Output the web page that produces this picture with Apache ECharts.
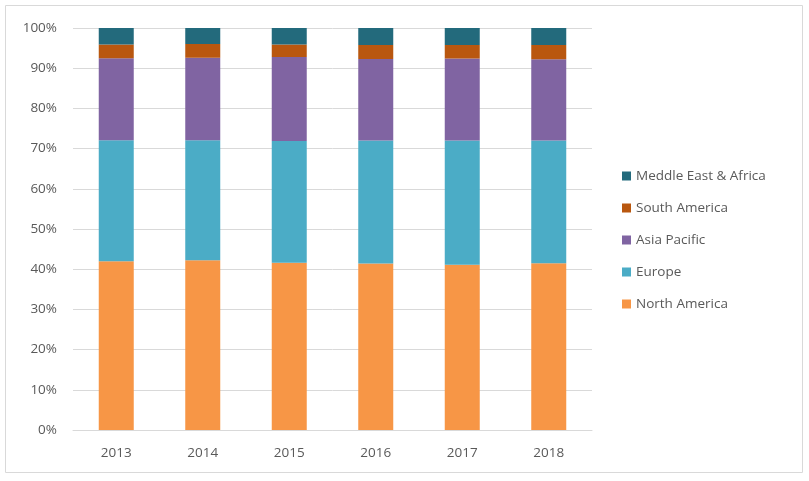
<!DOCTYPE html>
<html><head><meta charset="utf-8">
<script src="https://cdn.jsdelivr.net/npm/echarts@6/dist/echarts.min.js"></script>
<style>html,body{margin:0;padding:0;background:#fff}#c{width:809px;height:481px}</style>
</head><body><div id="c"></div>
<script>
const years = ['2013','2014','2015','2016','2017','2018'];
const northAmerica = [42.0, 42.2, 41.6, 41.4, 41.1, 41.5];
const europe = [30.1, 29.9, 30.3, 30.6, 30.9, 30.5];
const asiaPacific = [20.4, 20.5, 20.9, 20.3, 20.4, 20.2];
const southAmerica = [3.4, 3.4, 3.1, 3.5, 3.4, 3.6];
const middleEastAfrica = [4.1, 4.0, 4.1, 4.2, 4.2, 4.2];
const yTicks = [0,10,20,30,40,50,60,70,80,90,100];

const font = 'Open Sans';
const txt = '#595959';
const chart = echarts.init(document.getElementById('c'));
function s(name, data, color){
  return {name, type:'bar', stack:'all', data, barWidth:35, itemStyle:{color}};
}
chart.setOption({
  animation:false,
  graphic:[{type:'rect', shape:{x:5.5,y:5.5,width:797,height:467}, style:{fill:'none', stroke:'#D9D9D9', lineWidth:1}, z:-1}],
  grid:{left:73, right:217, top:28, bottom:51},
  legend:{
    orient:'vertical', left:617, top:163, itemWidth:9, itemHeight:9, itemGap:16,
    icon:'rect',
    textStyle:{fontFamily:font, fontSize:13.5, color:txt, lineHeight:16},
    data:['Meddle East & Africa','South America','Asia Pacific','Europe','North America']
  },
  xAxis:{type:'category', data:years,
    axisLine:{lineStyle:{color:'#D9D9D9'}}, axisTick:{show:false},
    axisLabel:{fontFamily:font, fontSize:13.5, color:txt, margin:16}},
  yAxis:{type:'value', min:0, max:100, interval:10,
    axisLine:{show:false}, axisTick:{show:false},
    splitLine:{lineStyle:{color:'#D9D9D9'}},
    axisLabel:{fontFamily:font, fontSize:13.5, color:txt, margin:16,
      formatter:v=> yTicks.includes(v) ? v+'%' : ''}},
  series:[
    s('North America', northAmerica, '#F79646'),
    s('Europe', europe, '#4BACC6'),
    s('Asia Pacific', asiaPacific, '#8064A2'),
    s('South America', southAmerica, '#B9570F'),
    s('Meddle East & Africa', middleEastAfrica, '#236A7C')
  ]
});
</script></body></html>
